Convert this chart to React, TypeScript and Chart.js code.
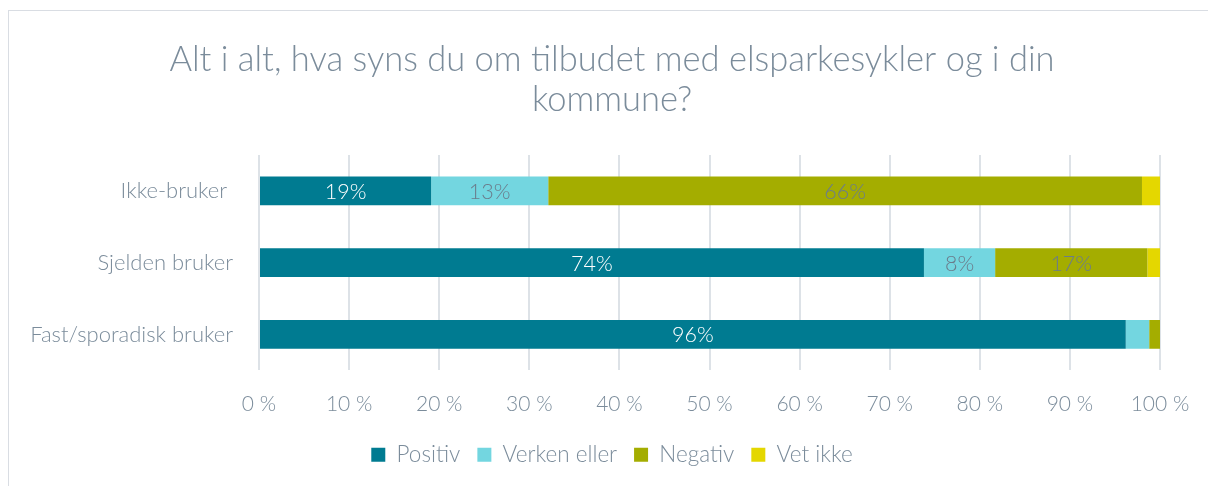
import React, { useEffect, useRef } from "react";
import { Chart, registerables } from "chart.js";

Chart.register(...registerables);

const titleLines = ["Alt i alt, hva syns du om tilbudet med elsparkesykler og i din", "kommune?"];
const categories = ["Ikke-bruker ", "Sjelden bruker", "Fast/sporadisk bruker"];
const seriesNames = ["Positiv", "Verken eller", "Negativ", "Vet ikke"];
const positiv = [19.1, 73.8, 96.2];
const verken = [13.0, 7.9, 2.6];
const negativ = [65.9, 16.9, 1.2];
const vetIkke = [2.0, 1.4, 0.0];
const xTicks = [0, 10, 20, 30, 40, 50, 60, 70, 80, 90, 100];

const colors = ["#007b91", "#73d6e0", "#a4ad00", "#e4d700"];
const labelColors = ["#ffffff", "#6b7c8b", "#6b7c8b", "#6b7c8b"];
const textColor = "#7b8c9b";
const FONT = "Lato";

const labelPlugin = {
  id: "segLabels",
  afterDatasetsDraw(chart: any) {
    const ctx = chart.ctx;
    ctx.save();
    ctx.font = `300 21.5px ${FONT}`;
    ctx.textAlign = "center";
    ctx.textBaseline = "middle";
    chart.data.datasets.forEach((ds: any, di: number) => {
      const meta = chart.getDatasetMeta(di);
      meta.data.forEach((bar: any, i: number) => {
        const v = ds.data[i];
        if (v < 5) return;
        const x = (bar.x + bar.base) / 2;
        ctx.fillStyle = labelColors[di];
        ctx.fillText(Math.round(v) + "%", x, bar.y + 1);
      });
    });
    ctx.restore();
  },
};

export default function App() {
  const ref = useRef<HTMLCanvasElement>(null);
  useEffect(() => {
    document.body.style.margin = "0";
    const all = [positiv, verken, negativ, vetIkke];
    const chart = new Chart(ref.current!, {
      type: "bar",
      data: {
        labels: categories,
        datasets: all.map((d, i) => ({
          label: seriesNames[i],
          data: d,
          backgroundColor: colors[i],
          borderWidth: 0,
          categoryPercentage: 0.8,
          barPercentage: 0.5,
        })),
      },
      options: {
        indexAxis: "y",
        animation: false,
        responsive: false,
        maintainAspectRatio: false,
        layout: { padding: { left: 7, right: 0, top: 0, bottom: 10 } },
        plugins: {
          title: {
            display: true,
            text: titleLines,
            color: textColor,
            font: { family: FONT, size: 34.5, weight: "300", lineHeight: 1.16 },
            padding: { top: 29, bottom: 35 },
          },
          legend: {
            display: true,
            position: "bottom",
            labels: {
              color: textColor,
              font: { family: FONT, size: 22.5, weight: "300" },
              boxWidth: 14,
              boxHeight: 14,
              padding: 17,
            },
          },
          tooltip: { enabled: false },
        },
        scales: {
          x: {
            stacked: true,
            min: 0,
            max: 100,
            afterBuildTicks(scale: any) {
              scale.ticks = xTicks.map((v) => ({ value: v }));
            },
            afterFit(scale: any) {
              scale.height = scale.height - 11;
              scale.paddingRight = 48;
            },
            ticks: {
              color: textColor,
              font: { family: FONT, size: 21, weight: "300" },
              callback: (v: any) => v + " %",
              padding: 21,
              maxRotation: 0,
            },
            grid: { color: "#dde2e7", lineWidth: 2, drawTicks: false },
            border: { display: false },
          },
          y: {
            stacked: true,
            ticks: {
              color: textColor,
              font: { family: FONT, size: 22, weight: "300" },
              padding: 18,
            },
            grid: { display: false },
            border: { display: false },
            afterFit(scale: any) {
              scale.width = 243;
            },
          },
        },
      },
      plugins: [labelPlugin],
    });
    return () => chart.destroy();
  }, []);
  return (
    <div
      style={{
        position: "absolute",
        left: 8,
        top: 10,
        width: 1199,
        height: 476,
        borderLeft: "1px solid #d9dde3",
        borderTop: "1px solid #d9dde3",
        overflow: "hidden",
      }}
    >
      <canvas ref={ref} width={1199} height={475} style={{ display: "block" }} />
    </div>
  );
}
